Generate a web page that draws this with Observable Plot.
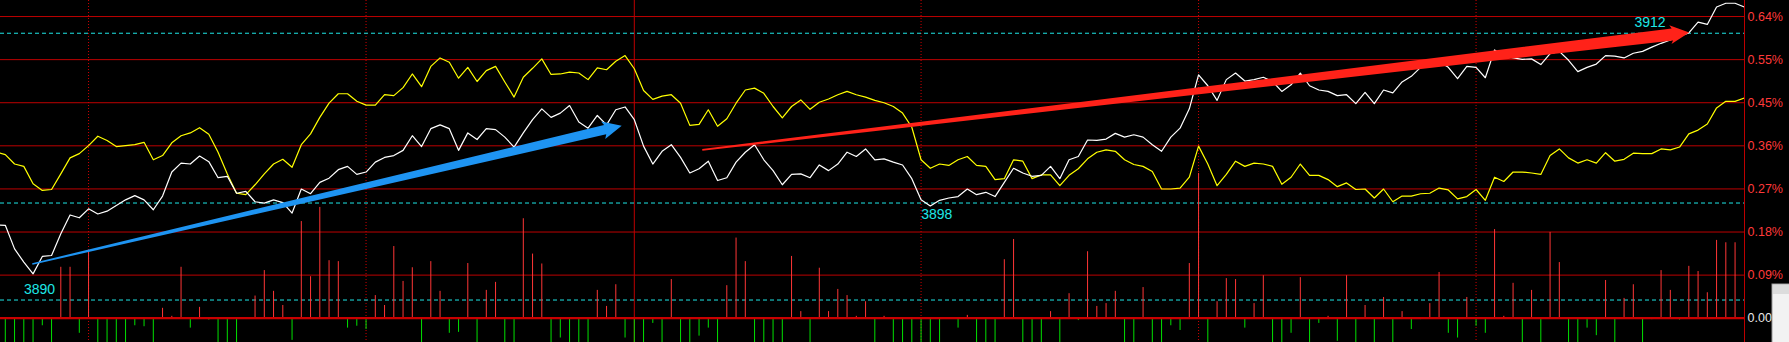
<!DOCTYPE html>
<html><head><meta charset="utf-8">
<script src="https://cdn.jsdelivr.net/npm/d3@7"></script>
<script src="https://cdn.jsdelivr.net/npm/@observablehq/plot@0.6"></script>
<style>html,body{margin:0;padding:0;background:#000;overflow:hidden}</style>
</head><body><div id="chart"></div>
<script>
// ---- data (percent change vs. previous close, one value per minute) ----
const prevClose = 3888.5;
const priceLevels = [3890, 3898, 3912];
const levelLabels = [
  {price: 3890, minute: 3.7, side: "above"},
  {price: 3898, minute: 100.7, side: "below"},
  {price: 3912, minute: 177.8, side: "above"}
];
const gridStep = 0.0914;
const tickLabels = ["0.00", "0.09%", "0.18%", "0.27%", "0.36%", "0.45%", "0.55%", "0.64%"];
const dottedMinutes = [9, 39, 99, 129, 159];
const breakMinutes = [68];
const firstMinute = -1;
const minuteDomain = [-0.52, 188.02];
const pctDomain = [-0.0515, 0.6738];

const priceLine = [
  0.198, 0.197, 0.147, 0.119, 0.094, 0.131, 0.133, 0.179, 0.219, 0.213, 0.232,
  0.221, 0.227, 0.239, 0.251, 0.260, 0.251, 0.230, 0.259, 0.310, 0.329,
  0.327, 0.344, 0.332, 0.298, 0.301, 0.265, 0.269, 0.247, 0.244, 0.251,
  0.245, 0.223, 0.274, 0.264, 0.288, 0.297, 0.315, 0.322, 0.305, 0.310,
  0.331, 0.341, 0.345, 0.356, 0.387, 0.364, 0.402, 0.410, 0.402, 0.356,
  0.393, 0.379, 0.402, 0.400, 0.384, 0.363, 0.393, 0.421, 0.444, 0.426,
  0.435, 0.451, 0.416, 0.403, 0.430, 0.410, 0.442, 0.448, 0.421, 0.365,
  0.327, 0.354, 0.368, 0.341, 0.308, 0.317, 0.333, 0.292, 0.298, 0.331,
  0.352, 0.368, 0.336, 0.313, 0.283, 0.305, 0.306, 0.298, 0.325, 0.313,
  0.327, 0.352, 0.343, 0.359, 0.336, 0.338, 0.331, 0.325, 0.296, 0.251,
  0.238, 0.250, 0.255, 0.258, 0.274, 0.262, 0.267, 0.258, 0.288, 0.318,
  0.308, 0.301, 0.303, 0.322, 0.296, 0.336, 0.343, 0.378, 0.377, 0.380,
  0.392, 0.384, 0.389, 0.384, 0.368, 0.354, 0.384, 0.403, 0.444, 0.516,
  0.493, 0.462, 0.506, 0.520, 0.503, 0.506, 0.511, 0.502, 0.481, 0.495,
  0.520, 0.493, 0.484, 0.481, 0.472, 0.474, 0.455, 0.479, 0.455, 0.484,
  0.478, 0.501, 0.513, 0.532, 0.541, 0.544, 0.532, 0.508, 0.534, 0.532,
  0.510, 0.569, 0.557, 0.552, 0.549, 0.550, 0.538, 0.561, 0.566, 0.547,
  0.523, 0.532, 0.539, 0.557, 0.556, 0.552, 0.562, 0.566, 0.575, 0.583,
  0.590, 0.598, 0.605, 0.628, 0.623, 0.660, 0.668, 0.668, 0.660
];
const avgLine = [
  0.352, 0.347, 0.327, 0.322, 0.285, 0.271, 0.273, 0.306, 0.340, 0.349, 0.366,
  0.386, 0.377, 0.364, 0.366, 0.368, 0.373, 0.336, 0.345, 0.372, 0.387,
  0.393, 0.404, 0.390, 0.352, 0.306, 0.265, 0.262, 0.283, 0.306, 0.327,
  0.337, 0.320, 0.368, 0.391, 0.426, 0.456, 0.476, 0.476, 0.460, 0.452,
  0.452, 0.474, 0.472, 0.489, 0.518, 0.491, 0.534, 0.552, 0.543, 0.509,
  0.532, 0.502, 0.525, 0.534, 0.501, 0.469, 0.511, 0.530, 0.550, 0.517,
  0.518, 0.522, 0.520, 0.506, 0.531, 0.527, 0.545, 0.557, 0.529, 0.483,
  0.464, 0.471, 0.474, 0.456, 0.409, 0.411, 0.442, 0.407, 0.423, 0.456,
  0.484, 0.488, 0.477, 0.449, 0.425, 0.449, 0.463, 0.443, 0.458, 0.465,
  0.474, 0.481, 0.474, 0.469, 0.462, 0.457, 0.449, 0.435, 0.405, 0.336,
  0.318, 0.327, 0.324, 0.336, 0.343, 0.324, 0.322, 0.294, 0.296, 0.336,
  0.333, 0.296, 0.304, 0.304, 0.281, 0.303, 0.317, 0.338, 0.352, 0.357,
  0.354, 0.336, 0.326, 0.322, 0.311, 0.274, 0.274, 0.276, 0.299, 0.365,
  0.327, 0.281, 0.305, 0.333, 0.322, 0.329, 0.327, 0.322, 0.284, 0.299,
  0.327, 0.303, 0.303, 0.294, 0.279, 0.287, 0.273, 0.274, 0.255, 0.274,
  0.247, 0.259, 0.259, 0.264, 0.265, 0.276, 0.272, 0.253, 0.258, 0.273,
  0.250, 0.299, 0.290, 0.310, 0.310, 0.308, 0.305, 0.345, 0.359, 0.340,
  0.329, 0.336, 0.329, 0.351, 0.333, 0.337, 0.350, 0.349, 0.349, 0.359,
  0.357, 0.363, 0.391, 0.399, 0.412, 0.446, 0.460, 0.460, 0.467
];
// bars from minute 0
const flowBars = [
  -0.06, -0.06, -0.06, -0.06, -0.016, -0.06, 0.108, 0.108, -0.032, 0.140,
  -0.06, -0.06, -0.06, -0.06, -0.016, -0.018, -0.06, 0.021, 0.004, 0.108,
  -0.021, 0.023, -0.004, -0.06, -0.06, -0.06, 0, 0.047, 0.101, 0.057,
  0.027, -0.047, 0.205, 0.088, 0.235, 0.122, 0.120, -0.021, -0.017, -0.024,
  0.048, 0.027, 0.152, 0.078, 0.107, -0.06, 0.120, 0.057, -0.032, -0.030,
  0.116, -0.06, 0.059, 0.076, -0.06, -0.06, 0.211, 0.136, 0.115, -0.06,
  -0.042, -0.06, -0.06, -0.06, 0.059, 0.025, 0.071, -0.042, -0.06, -0.06,
  -0.011, -0.06, 0.082, -0.06, -0.06, -0.038, -0.021, -0.06, 0.069, 0.170,
  0.120, -0.06, -0.06, -0.06, -0.06, 0.131, 0.014, -0.06, 0.106, 0.014,
  0.061, 0.048, 0.004, 0.035, -0.06, 0.004, -0.06, -0.06, -0.06, -0.06,
  -0.06, -0.06, 0, -0.021, 0.006, -0.06, -0.06, -0.06, 0.124, 0.167,
  -0.06, -0.06, -0.06, 0.014, -0.06, 0.052, -0.005, 0.141, 0.025, 0.031,
  0.057, -0.06, -0.06, 0.065, -0.06, -0.06, -0.016, -0.026, 0.116, 0.307,
  -0.06, 0.035, 0.084, 0.082, -0.021, 0.031, 0.090, -0.06, -0.06, -0.032,
  0.086, -0.06, -0.011, 0.004, -0.049, 0.090, -0.06, 0.027, -0.06, 0.044,
  -0.06, 0.014, -0.024, -0.003, 0.031, 0.097, -0.032, -0.042, 0.044, -0.017,
  -0.032, 0.188, 0.004, 0.074, -0.06, 0.059, -0.06, 0.182, 0.118, -0.06,
  -0.06, -0.021, -0.037, 0.080, -0.06, 0.042, 0.071, -0.06, -0.003, 0.101,
  0.059, -0.004, 0.110, 0.099, 0.054, 0.165, 0.160, 0.160
];
// trend arrows (minute, percent)
const arrowsData = [
  {from: [2.97, 0.114], to: [66.69, 0.407], color: "#1e94f2", tail: 0.8, neck: 4.8, head: 9, len: 17},
  {from: [75.4, 0.356], to: [182.1, 0.605], color: "#ff2219", tail: 0.9, neck: 6, head: 9.5, len: 17}
];

// ---- build ----
const pct = p => (p / prevClose - 1) * 100;
const lineData = priceLine.map((v, i) => ({minute: firstMinute + i, price: v, avg: avgLine[i]}));
const barData = flowBars.map((v, i) => ({minute: i, v})).filter(d => d.v !== 0);
const ticks = tickLabels.map((t, i) => ({v: i * gridStep, t}));
const FONT = "Liberation Sans, Arial, sans-serif";
const GRID = "#bd0000";

const plot = Plot.plot({
  width: 1789, height: 342,
  marginLeft: 0, marginRight: 45, marginTop: 0, marginBottom: 0,
  style: {background: "#000", color: "#fff", overflow: "hidden"},
  x: {domain: minuteDomain, axis: null},
  y: {domain: pctDomain, axis: null},
  marks: [
    Plot.ruleY(ticks.slice(1), {y: "v", stroke: GRID, strokeWidth: 1}),
    Plot.ruleX(dottedMinutes, {stroke: "#d00000", strokeDasharray: "1,2"}),
    Plot.ruleX(breakMinutes, {stroke: GRID}),
    Plot.ruleY(priceLevels.map(pct), {stroke: "#1ee6e6", strokeDasharray: "4,3"}),
    Plot.ruleX(barData, {x: "minute", y1: 0, y2: "v", stroke: d => d.v > 0 ? "#ff3636" : "#00e000", strokeWidth: 1, clip: true}),
    Plot.ruleY([0], {stroke: "#c80000", strokeWidth: 2.2}),
    Plot.line(lineData, {x: "minute", y: "avg", stroke: "#ffff00", strokeWidth: 1.2, clip: true}),
    Plot.line(lineData, {x: "minute", y: "price", stroke: "#ffffff", strokeWidth: 1.2, clip: true}),
    Plot.ruleX([minuteDomain[1]], {stroke: GRID}),
    Plot.text(ticks, {x: () => minuteDomain[1], y: "v", text: "t", dx: 3, textAnchor: "start",
      fill: d => d.v === 0 ? "#e8e8e8" : "#ff3a3a", fontSize: 12.5, fontFamily: FONT}),
    ...levelLabels.map(l => Plot.text([l], {x: "minute", y: d => pct(d.price), text: d => String(d.price),
      dy: l.side === "above" ? -11 : 11, fill: "#1ee6e6", fontSize: 14, fontFamily: FONT, textAnchor: "middle"}))
  ]
});

// tapered arrows projected through the scales
const sx = plot.scale("x"), sy = plot.scale("y");
const svg = d3.select(plot);
const arrowLayer = svg.insert("g", "g[aria-label='text']");
for (const a of arrowsData) {
  const x0 = sx.apply(a.from[0]), y0 = sy.apply(a.from[1]);
  const x1 = sx.apply(a.to[0]), y1 = sy.apply(a.to[1]);
  const L = Math.hypot(x1 - x0, y1 - y0);
  const ux = (x1 - x0) / L, uy = (y1 - y0) / L;
  const nx = -uy, ny = ux;
  const bx = x1 - ux * a.len, by = y1 - uy * a.len;
  const pts = [
    [x0 + nx * a.tail, y0 + ny * a.tail],
    [bx + nx * a.neck, by + ny * a.neck],
    [bx - ux * 2 + nx * a.head, by - uy * 2 + ny * a.head],
    [x1, y1],
    [bx - ux * 2 - nx * a.head, by - uy * 2 - ny * a.head],
    [bx - nx * a.neck, by - ny * a.neck],
    [x0 - nx * a.tail, y0 - ny * a.tail]
  ];
  arrowLayer.append("path").attr("d", "M" + pts.map(p => p.join(",")).join("L") + "Z").attr("fill", a.color);
}
// window chrome visible at the bottom-right corner of the screenshot
const chrome = svg.append("g");
chrome.append("rect").attr("x", 1772).attr("y", 284).attr("width", 20).attr("height", 60).attr("fill", "#f2f2f2").attr("stroke", "#9a9a9a");
chrome.append("rect").attr("x", 1773).attr("y", 285).attr("width", 18).attr("height", 9).attr("fill", "#dcdcdc");

document.getElementById("chart").appendChild(plot);
</script>
</body></html>
